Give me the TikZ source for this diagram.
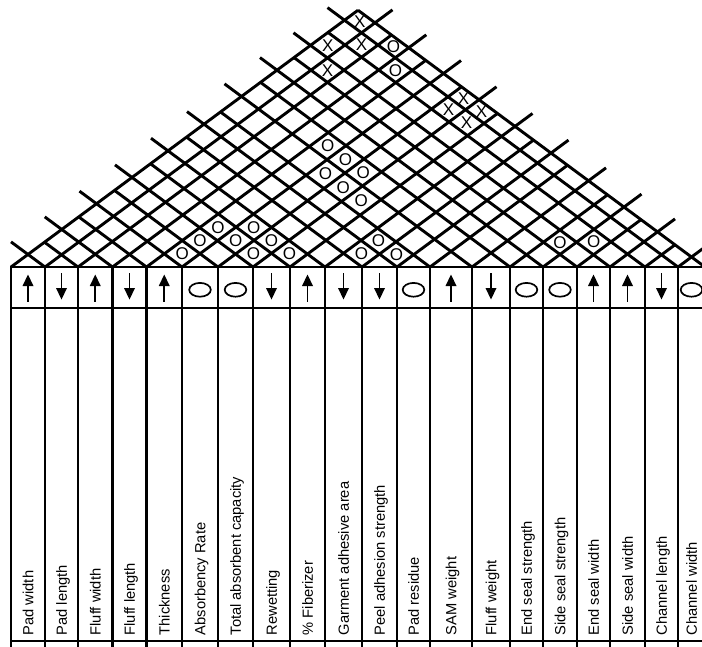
\documentclass[tikz,border=0pt]{standalone}
\usepackage{fontspec}
\setmainfont{Liberation Sans}
\begin{document}
\begin{tikzpicture}[x=1pt,y=-1pt,
  grid/.style={line width=2.9pt},
  tab/.style={line width=2.8pt},
  mk/.style={inner sep=0pt,font=\fontsize{17}{19}\selectfont},
  lab/.style={rotate=90,anchor=base west,inner sep=0pt,font=\fontsize{14.7}{17}\selectfont},
  sym/.style={line width=1.9pt}]
\useasboundingbox (0,0) rectangle (702,646);
\fill[white] (0,0) rectangle (702,646);
\clip (0,0) rectangle (702,646);
\def\bnd{{11,45,78,112.5,146.5,182,218,253,290,325,362,397,430,472,510,543,577,610,645,678,705}}
\def\slp{0.74}
% roof lattice
\foreach \k in {0,...,20}{
  \pgfmathsetmacro{\bk}{\bnd[\k]}
  \pgfmathsetmacro{\E}{isodd(\k) ? 740 : 705}
  \pgfmathsetmacro{\xe}{(\bk+\E)/2}
  \pgfmathsetmacro{\ye}{267-(\xe-\bk)*\slp}
  \pgfmathsetmacro{\W}{isodd(\k) ? -23 : 11}
  \pgfmathsetmacro{\xw}{(\bk+\W)/2}
  \pgfmathsetmacro{\yw}{267-(\bk-\xw)*\slp}
  \coordinate (base\k) at (\bk,267);
  \coordinate (re\k) at (\xe,\ye);
  \coordinate (le\k) at (\xw,\yw);
  \draw[grid] (base\k) -- (re\k);
  \draw[grid] (base\k) -- (le\k);
}
% table
\draw[tab] (11,267) -- (705,267);
\draw[tab] (11,308) -- (705,308);
\draw[tab] (11,641) -- (705,641);
\foreach \k in {0,...,20}{
  \pgfmathsetmacro{\bk}{\bnd[\k]}
  \draw[tab] (\bk,265.6) -- (\bk,650);
}
% symbols
\foreach \i/\ty in {1/u,2/d,3/u,4/d,5/u,6/o,7/o,8/d,9/u,10/d,11/d,12/o,13/u,14/d,15/o,16/o,17/u,18/u,19/d,20/o}{
  \pgfmathtruncatemacro{\im}{\i-1}
  \pgfmathsetmacro{\bl}{\bnd[\im]}
  \pgfmathsetmacro{\br}{\bnd[\i]}
  \pgfmathsetmacro{\cx}{(\bl+\br)/2}
  \if\ty u
    \fill (\cx-5.5,286) -- (\cx,274.5) -- (\cx+5.5,286) -- cycle;
    \draw[sym] (\cx,284) -- (\cx,302);
  \fi
  \if\ty d
    \draw[sym] (\cx,273) -- (\cx,290);
    \fill (\cx-5.5,288) -- (\cx,299.5) -- (\cx+5.5,288) -- cycle;
  \fi
  \if\ty o
    \draw[line width=1.7pt] (\cx,289.8) ellipse [x radius=10.8pt, y radius=6.9pt];
  \fi
}
% labels
\foreach \i/\txt in {1/Pad width,2/Pad length,3/Fluff width,4/Fluff length,5/Thickness,6/Absorbency Rate,7/Total absorbent capacity,8/Rewetting,9/\% Fiberizer,10/Garment adhesive area,11/Peel adhesion strength,12/Pad residue,13/SAM weight,14/Fluff weight,15/End seal strength,16/Side seal strength,17/End seal width,18/Side seal width,19/Channel length,20/Channel width}{
  \pgfmathtruncatemacro{\im}{\i-1}
  \pgfmathsetmacro{\bl}{\bnd[\im]}
  \pgfmathsetmacro{\br}{\bnd[\i]}
  \pgfmathsetmacro{\cx}{(\bl+\br)/2}
  \node[lab] (lab\i) at (\cx+5.3,635.5) {\txt};
}
% correlation marks
\foreach \i/\j/\ty in {1/20/X,1/18/X,2/19/X,2/17/X,7/20/X,7/19/X,8/20/X,8/19/X,3/20/O,4/19/O,5/14/O,6/14/O,6/13/O,7/14/O,7/13/O,8/13/O,10/12/O,5/6/O,7/8/O,8/9/O,10/11/O,11/12/O,5/7/O,6/8/O,7/9/O,5/8/O,6/9/O,15/17/O,16/18/O}{
  \pgfmathtruncatemacro{\im}{\i-1}
  \pgfmathtruncatemacro{\jm}{\j-1}
  \pgfmathsetmacro{\al}{\bnd[\im]}
  \pgfmathsetmacro{\ar}{\bnd[\i]}
  \pgfmathsetmacro{\cl}{\bnd[\jm]}
  \pgfmathsetmacro{\cr}{\bnd[\j]}
  \pgfmathsetmacro{\ci}{(\al+\ar)/2}
  \pgfmathsetmacro{\cj}{(\cl+\cr)/2}
  \pgfmathsetmacro{\mx}{(\ci+\cj)/2}
  \pgfmathsetmacro{\my}{267-(\cj-\ci)/2*\slp}
  \node[mk] (m\i-\j) at (\mx,\my) {\ty};
}
\end{tikzpicture}
\end{document}
